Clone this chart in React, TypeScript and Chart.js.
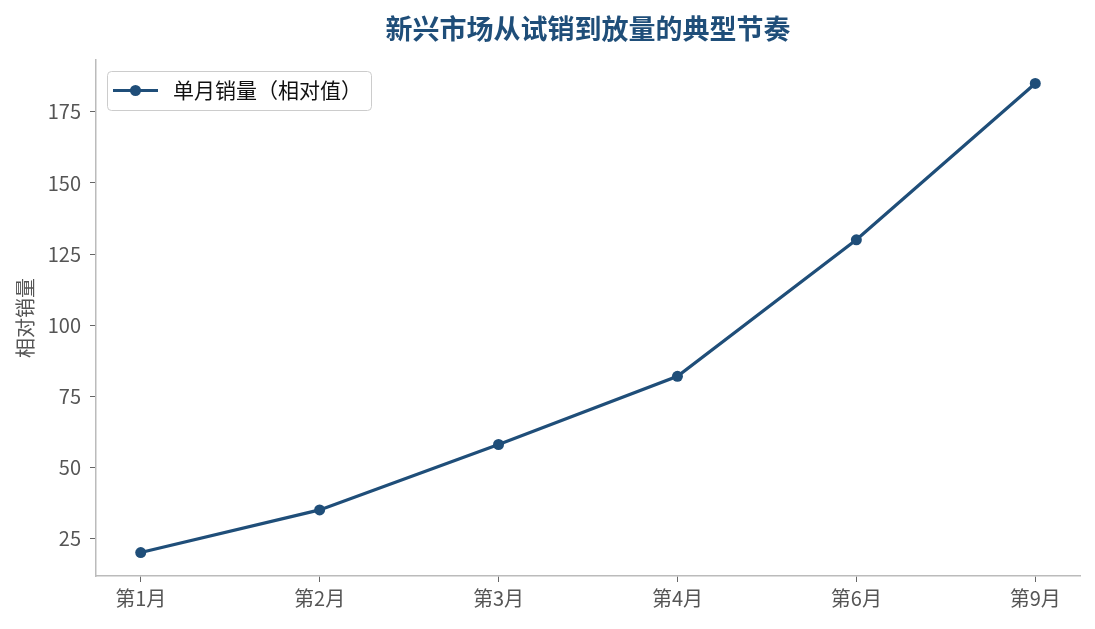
import React, { useEffect, useRef } from 'react';
import { Chart, registerables, Plugin } from 'chart.js';

Chart.register(...registerables);

const months = ['第1月', '第2月', '第3月', '第4月', '第6月', '第9月'];
const sales = [20, 35, 58, 82, 130, 185];
const seriesLabel = '单月销量（相对值）';
const chartTitle = '新兴市场从试销到放量的典型节奏';
const yTitle = '相对销量';

const BLUE = '#1f4e79';
const FONT = '"Noto Sans CJK SC", "Noto Sans", sans-serif';

// title, y label and the in-plot legend drawn by hand
const decorations: Plugin<'line'> = {
  id: 'decorations',
  afterDraw(chart) {
    const { ctx, chartArea } = chart;
    ctx.save();
    ctx.fillStyle = BLUE;
    ctx.font = `bold 27px ${FONT}`;
    ctx.textAlign = 'center';
    ctx.textBaseline = 'middle';
    ctx.fillText(chartTitle, (chartArea.left + chartArea.right) / 2, 29);

    ctx.save();
    ctx.translate(25, (chartArea.top + chartArea.bottom) / 2);
    ctx.rotate(-Math.PI / 2);
    ctx.fillStyle = '#555';
    ctx.font = `20px ${FONT}`;
    ctx.fillText(yTitle, 0, 0);
    ctx.restore();

    // legend box
    const bx = 107, by = 71, bw = 264, bh = 39;
    ctx.beginPath();
    ctx.roundRect(bx + 0.5, by + 0.5, bw, bh, 4);
    ctx.fillStyle = 'rgba(255,255,255,0.8)';
    ctx.fill();
    ctx.strokeStyle = '#cccccc';
    ctx.lineWidth = 1;
    ctx.stroke();
    const ly = by + bh / 2;
    ctx.beginPath();
    ctx.moveTo(113, ly);
    ctx.lineTo(158, ly);
    ctx.strokeStyle = BLUE;
    ctx.lineWidth = 3.2;
    ctx.stroke();
    ctx.beginPath();
    ctx.arc(135.5, ly, 5.5, 0, Math.PI * 2);
    ctx.fillStyle = BLUE;
    ctx.fill();
    ctx.fillStyle = '#111';
    ctx.font = `21px ${FONT}`;
    ctx.textAlign = 'left';
    ctx.fillText(seriesLabel, 173, ly);
    ctx.restore();
  },
};

const App: React.FC = () => {
  const chartRef = useRef<HTMLCanvasElement>(null);
  const chartInstance = useRef<Chart | null>(null);

  useEffect(() => {
    if (!chartRef.current) return;
    if (chartInstance.current) chartInstance.current.destroy();
    const ctx = chartRef.current.getContext('2d');
    if (!ctx) return;

    chartInstance.current = new Chart(ctx, {
      type: 'line',
      data: {
        datasets: [
          {
            label: seriesLabel,
            data: sales.map((v, i) => ({ x: i, y: v })),
            borderColor: BLUE,
            backgroundColor: BLUE,
            borderWidth: 3.2,
            pointRadius: 5.5,
            pointHoverRadius: 5.5,
            pointBackgroundColor: BLUE,
            pointBorderWidth: 0,
            tension: 0,
          },
        ],
      },
      options: {
        animation: false,
        responsive: true,
        maintainAspectRatio: false,
        layout: { padding: { top: 60, right: 15, left: 0, bottom: 0 } },
        plugins: {
          legend: { display: false },
          title: { display: false },
          tooltip: { enabled: false },
        },
        scales: {
          x: {
            type: 'linear',
            min: -0.25,
            max: 5.25,
            afterFit: (scale) => {
              scale.height = 53;
            },
            grid: { drawOnChartArea: false, drawTicks: true, tickLength: 6, color: '#666' },
            border: { color: '#bbbbbb', width: 1.5 },
            ticks: {
              stepSize: 1,
              includeBounds: false,
              padding: 4,
              color: '#555',
              font: { family: FONT, size: 20 },
              callback: (v) => months[Number(v)] ?? '',
            },
          },
          y: {
            min: 11.75,
            max: 193.25,
            afterFit: (scale) => {
              scale.width = 96;
            },
            grid: { drawOnChartArea: false, drawTicks: true, tickLength: 6, color: '#666' },
            border: { color: '#bbbbbb', width: 1.5 },
            ticks: {
              stepSize: 25,
              includeBounds: false,
              padding: 9,
              color: '#555',
              font: { family: FONT, size: 20 },
            },
          },
        },
      },
      plugins: [decorations],
    });

    return () => {
      if (chartInstance.current) {
        chartInstance.current.destroy();
        chartInstance.current = null;
      }
    };
  }, []);

  return (
    <div style={{ position: 'fixed', left: 0, top: 0, width: 1095, height: 629, background: '#fff' }}>
      <canvas ref={chartRef}></canvas>
    </div>
  );
};

export default App;
